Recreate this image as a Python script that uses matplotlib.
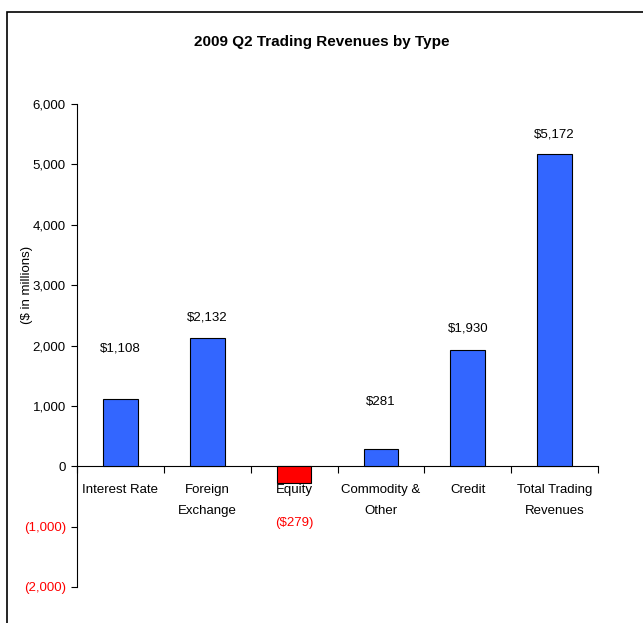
import matplotlib
matplotlib.use("Agg")
import matplotlib.pyplot as plt
from matplotlib.patches import Rectangle
from matplotlib.ticker import FixedLocator, FuncFormatter

categories = ["Interest Rate", "Foreign\nExchange", "Equity", "Commodity &\nOther",
              "Credit", "Total Trading\nRevenues"]
values = [1108, 2132, -279, 281, 1930, 5172]
value_labels = ["$1,108", "$2,132", "($279)", "$281", "$1,930", "$5,172"]
yticks = [-2000, -1000, 0, 1000, 2000, 3000, 4000, 5000, 6000]
# how far above the bar top the label sits, in points
label_offsets = [32, 10, 0, 30, 11, 10]

plt.rcParams['font.family'] = ['Liberation Sans Narrow', 'Liberation Sans', 'DejaVu Sans']

fig = plt.figure(figsize=(6.43, 6.23), dpi=100)
fig.patches.append(Rectangle((7 / 643, -0.1), 1.2, 0.1 + (623 - 12) / 623,
                             transform=fig.transFigure, fill=False,
                             edgecolor="black", linewidth=1.2))
fig.text(0.5, (623 - 42) / 623, "2009 Q2 Trading Revenues by Type",
         ha="center", va="center", fontsize=11, fontweight="bold")

ax = fig.add_axes([77 / 643, (623 - 587) / 623, (598 - 77) / 643, (587 - 104) / 623])

x = list(range(len(categories)))
colors = ["#FF0000" if v < 0 else "#3366FF" for v in values]
ax.bar(x, values, width=0.4, color=colors, edgecolor="black", linewidth=0.8, zorder=3)

for i, v in enumerate(values):
    if v >= 0:
        ax.annotate(value_labels[i], (i, v), xytext=(0, label_offsets[i]),
                    textcoords="offset points", ha="center", va="bottom", fontsize=9.5)
    else:
        ax.annotate(value_labels[i], (i, 0), xytext=(0, -41),
                    textcoords="offset points", ha="center", va="center",
                    fontsize=9.5, color="red")

ax.set_xlim(-0.5, len(categories) - 0.5)
ax.set_ylim(-2000, 6000)

for s in ["top", "right"]:
    ax.spines[s].set_visible(False)
ax.spines["bottom"].set_position(("data", 0))
ax.spines["left"].set_linewidth(0.8)
ax.spines["bottom"].set_linewidth(0.8)

ax.xaxis.set_major_locator(FixedLocator([i - 0.5 for i in range(len(categories) + 1)]))
ax.xaxis.set_minor_locator(FixedLocator(x))
ax.set_xticklabels([], minor=False)
ax.set_xticklabels(categories, minor=True, fontsize=9.5, linespacing=2.0)
ax.tick_params(axis="x", which="major", direction="out", length=5, width=0.8)
ax.tick_params(axis="x", which="minor", length=0, pad=13)

ax.set_yticks(yticks)
ax.yaxis.set_major_formatter(FuncFormatter(
    lambda v, p: f"({abs(v):,.0f})" if v < 0 else f"{v:,.0f}"))
ax.tick_params(axis="y", direction="out", length=4, width=0.8, labelsize=9.5, pad=4)
for t, v in zip(ax.get_yticklabels(), yticks):
    if v < 0:
        t.set_color("red")

ax.set_ylabel("($ in millions)", fontsize=9.5)
ax.yaxis.set_label_coords(-0.085, (3000 + 2000) / 8000)

fig.savefig("out.png", dpi=100)
